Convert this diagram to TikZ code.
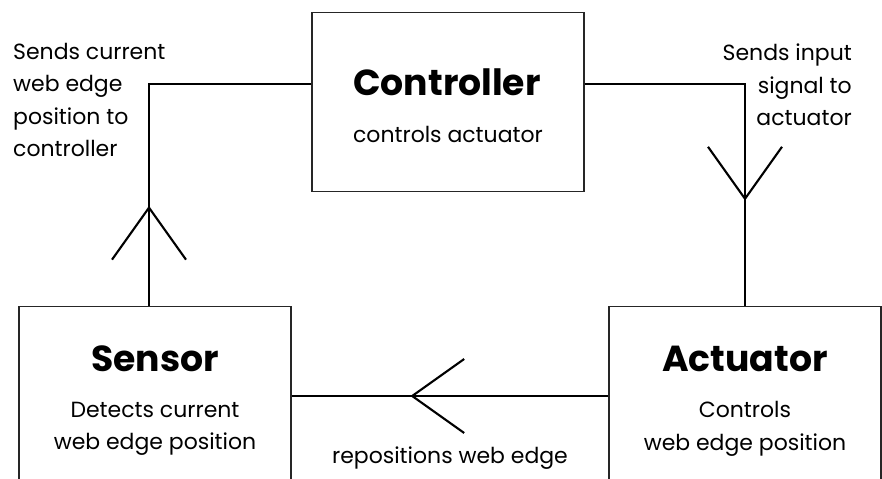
\documentclass[tikz,border=0pt]{standalone}
\usepackage{fontspec}
\setmainfont{Poppins}
\usetikzlibrary{positioning,arrows.meta,decorations.markings}

\tikzset{
  block/.style={draw=black!85, line width=0.8pt, minimum width=5.44cm, minimum height=3.58cm, inner sep=0pt},
  head/.style={font=\fontsize{20.6}{24}\selectfont\bfseries},
  desc/.style={font=\fontsize{12.5}{18.4}\selectfont, align=center},
  note/.style={font=\fontsize{12.5}{18.4}\selectfont},
  flow/.style={line width=1.2pt},
  barb/.style={postaction={decorate, decoration={markings,
    mark=at position #1 with {\arrow{Straight Barb[length=1.04cm,width=1.48cm,line width=1.2pt]}}}}}
}

\begin{document}
\begin{tikzpicture}[x=0.02cm, y=-0.02cm]
   \useasboundingbox (0,0) rectangle (882,479);
   % blocks
   \node[block] (ctrl) at (448,102) {};
   \node[block] (sens) at (155,396) {};
   \node[block] (act)  at (745,396) {};

   \node[head] (ctrlhead) at (447,82)  {Controller};
   \node[desc] (ctrldesc) at (448,134) {controls actuator};
   \node[head] (senshead) at (155,359) {Sensor};
   \node[desc] (sensdesc) at (155,429) {Detects current\\web edge position};
   \node[head] (acthead)  at (745,359) {Actuator};
   \node[desc] (actdesc)  at (745,429) {Controls\\web edge position};

   % connectors
   \coordinate (lcorner) at (149,84);
   \coordinate (rcorner) at (745,84);
   \draw[flow, barb=2cm] (sens.north -| lcorner) -- (lcorner) -- (lcorner -| ctrl.west);
   \draw[flow, barb=5.54cm] (rcorner -| ctrl.east) -- (rcorner) -- (act.north);
   \draw[flow, barb=3.96cm] (act.west) -- (sens.east);

   % labels
   \node[note, anchor=north west, align=left] (lnote) at (7,37)
     {Sends current\\web edge\\position to\\controller};
   \node[note, anchor=north east, align=right] (rnote) at (858,38)
     {Sends input\\signal to\\actuator};
   \node[note] (bnote) at (450,458) {repositions web edge};
\end{tikzpicture}
\end{document}
